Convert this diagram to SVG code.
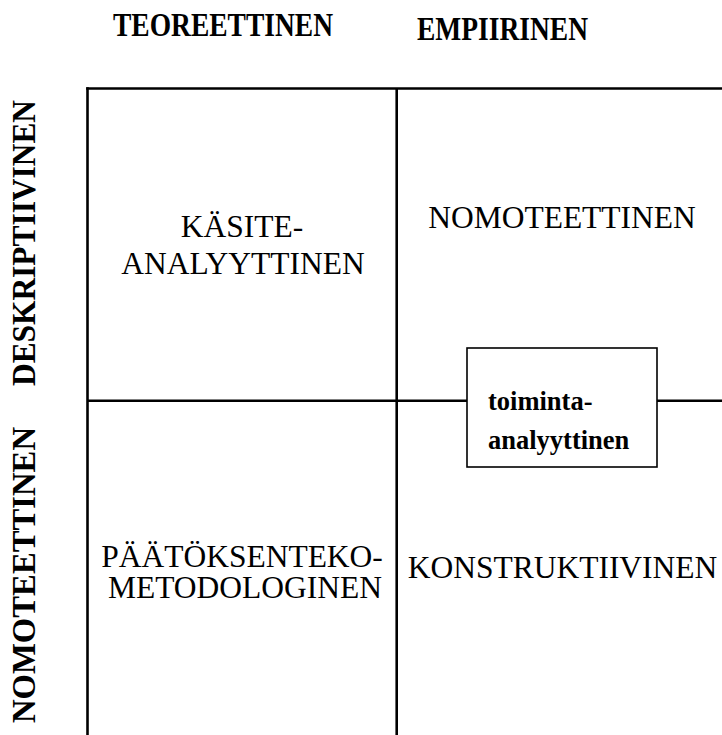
<svg xmlns="http://www.w3.org/2000/svg" width="722" height="735" viewBox="0 0 722 735">
<style>
.hdr{font-family:"Liberation Serif","Times New Roman",serif;font-weight:bold;font-size:33px;fill:#000}
.cell{font-family:"Liberation Serif","Times New Roman",serif;font-size:31.5px;fill:#000;text-anchor:middle}
.box{font-family:"Liberation Serif","Times New Roman",serif;font-weight:bold;font-size:26.5px;fill:#000}
.ln{stroke:#000;stroke-width:2.6;fill:none}
</style>
<rect width="722" height="735" fill="#fff"/>
<g id="headers">
<text class="hdr" x="113" y="36" textLength="220" lengthAdjust="spacingAndGlyphs">TEOREETTINEN</text>
<text class="hdr" x="417" y="40" textLength="171" lengthAdjust="spacingAndGlyphs">EMPIIRINEN</text>
<text class="hdr" transform="translate(35,386) rotate(-90)" textLength="286" lengthAdjust="spacingAndGlyphs">DESKRIPTIIVINEN</text>
<text class="hdr" transform="translate(35,723) rotate(-90)" textLength="296" lengthAdjust="spacingAndGlyphs">NOMOTEETTINEN</text>
</g>
<g id="grid">
<line class="ln" x1="86.2" y1="88.5" x2="722" y2="88.5"/>
<line class="ln" x1="87.5" y1="87.2" x2="87.5" y2="735"/>
<line class="ln" x1="396.7" y1="88.5" x2="396.7" y2="735"/>
</g>
<g id="cell-kasiteanalyyttinen">
<text class="cell" x="242" y="237">KÄSITE-</text>
<text class="cell" x="243" y="274">ANALYYTTINEN</text>
</g>
<g id="cell-nomoteettinen">
<text class="cell" x="562" y="228">NOMOTEETTINEN</text>
</g>
<g id="cell-paatoksenteko">
<text class="cell" x="242" y="567">PÄÄTÖKSENTEKO-</text>
<text class="cell" x="245" y="598">METODOLOGINEN</text>
</g>
<g id="cell-konstruktiivinen">
<text class="cell" x="562.5" y="578">KONSTRUKTIIVINEN</text>
</g>
<g id="connectors">
<line class="ln" x1="87.5" y1="400.7" x2="467" y2="400.7"/>
<line class="ln" x1="657" y1="400.7" x2="722" y2="400.7"/>
</g>
<g id="node-toimintaanalyyttinen">
<rect x="467" y="348" width="190" height="119" fill="#fff" stroke="#000" stroke-width="1.6"/>
<text class="box" x="488" y="410">toiminta-</text>
<text class="box" x="488" y="449">analyyttinen</text>
</g>
</svg>
